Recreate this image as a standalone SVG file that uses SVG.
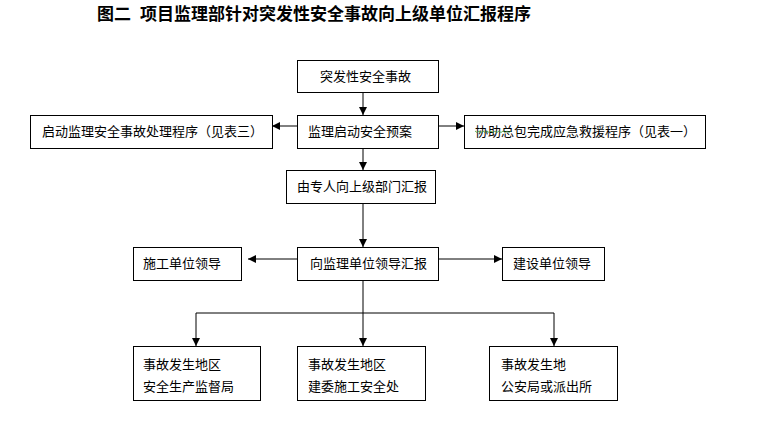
<svg xmlns="http://www.w3.org/2000/svg" width="760" height="438" viewBox="0 0 760 438">
<style>
.box{fill:#fff;stroke:#000;stroke-width:1}
.t{font-family:"Noto Sans CJK SC","Liberation Sans",sans-serif;font-size:13px;fill:#000}
.title{font-family:"Liberation Serif","Noto Sans CJK SC",serif;font-size:17px;font-weight:bold;fill:#000}
.c{stroke:#000;stroke-width:1;fill:none}
</style>
<defs>
<marker id="ah" viewBox="0 0 10 10" refX="10" refY="5" markerWidth="8" markerHeight="8" markerUnits="userSpaceOnUse" orient="auto">
<path d="M0,0 L10,5 L0,10 Z" fill="#000"/>
</marker>
</defs>
<rect width="760" height="438" fill="#fff"/>
<text class="title" y="20"><tspan x="97">图二</tspan><tspan x="140">项目监理部针对突发性安全事故向上级单位汇报程序</tspan></text>

<g id="connectors">
<path class="c" d="M363,92 V115" marker-end="url(#ah)"/>
<path class="c" d="M297,126 H272" marker-end="url(#ah)"/>
<path class="c" d="M438,126 H464" marker-end="url(#ah)"/>
<path class="c" d="M363,148 V170" marker-end="url(#ah)"/>
<path class="c" d="M363,203 V247" marker-end="url(#ah)"/>
<path class="c" d="M297,259 H248" marker-end="url(#ah)"/>
<path class="c" d="M438,259 H502" marker-end="url(#ah)"/>
<path class="c" d="M363,280 V346" marker-end="url(#ah)"/>
<path class="c" d="M196,313 H554"/>
<path class="c" d="M196,313 V346" marker-end="url(#ah)"/>
<path class="c" d="M554,313 V346" marker-end="url(#ah)"/>
</g>

<g id="n1"><rect class="box" x="297.5" y="60.5" width="141" height="32"/><text class="t" x="320" y="81">突发性安全事故</text></g>
<g id="n2"><rect class="box" x="297.5" y="115.5" width="141" height="33"/><text class="t" x="308" y="136">监理启动安全预案</text></g>
<g id="n3"><rect class="box" x="30.5" y="115.5" width="242" height="33"/><text class="t" x="42" y="136">启动监理安全事故处理程序（见表三）</text></g>
<g id="n4"><rect class="box" x="464.5" y="115.5" width="241" height="33"/><text class="t" x="475" y="136">协助总包完成应急救援程序（见表一）</text>
<path d="M475,131 l2,1.5 l2,-1.5 l2,1.5 l2,-1.5 l2,1.5 l2,-1.5 l2,1.5 l2,-1.5 l2,1.5 l2,-1.5 l2,1.5 l2,-1.5 l2,1.5 l2,-1.5 l2,1.5 l2,-1.5 l2,1.5 l2,-1.5" fill="none" stroke="#3c9a3c" stroke-width="0.8"/></g>
<g id="n5"><rect class="box" x="286.5" y="170.5" width="149" height="33"/><text class="t" x="297" y="191">由专人向上级部门汇报</text></g>
<g id="n6"><rect class="box" x="297.5" y="247.5" width="141" height="33"/><text class="t" x="310" y="268">向监理单位领导汇报</text></g>
<g id="n7"><rect class="box" x="133.5" y="247.5" width="108" height="33"/><text class="t" x="143" y="268">施工单位领导</text></g>
<g id="n8"><rect class="box" x="502.5" y="247.5" width="102" height="33"/><text class="t" x="513" y="268">建设单位领导</text></g>
<g id="n9"><rect class="box" x="133.5" y="346.5" width="127" height="54"/><text class="t" x="143" y="369">事故发生地区</text><text class="t" x="143" y="391">安全生产监督局</text></g>
<g id="n10"><rect class="box" x="297.5" y="346.5" width="128" height="54"/><text class="t" x="308" y="369">事故发生地区</text><text class="t" x="308" y="391">建委施工安全处</text></g>
<g id="n11"><rect class="box" x="489.5" y="346.5" width="128" height="54"/><text class="t" x="501" y="369">事故发生地</text><text class="t" x="501" y="391">公安局或派出所</text></g>
</svg>
